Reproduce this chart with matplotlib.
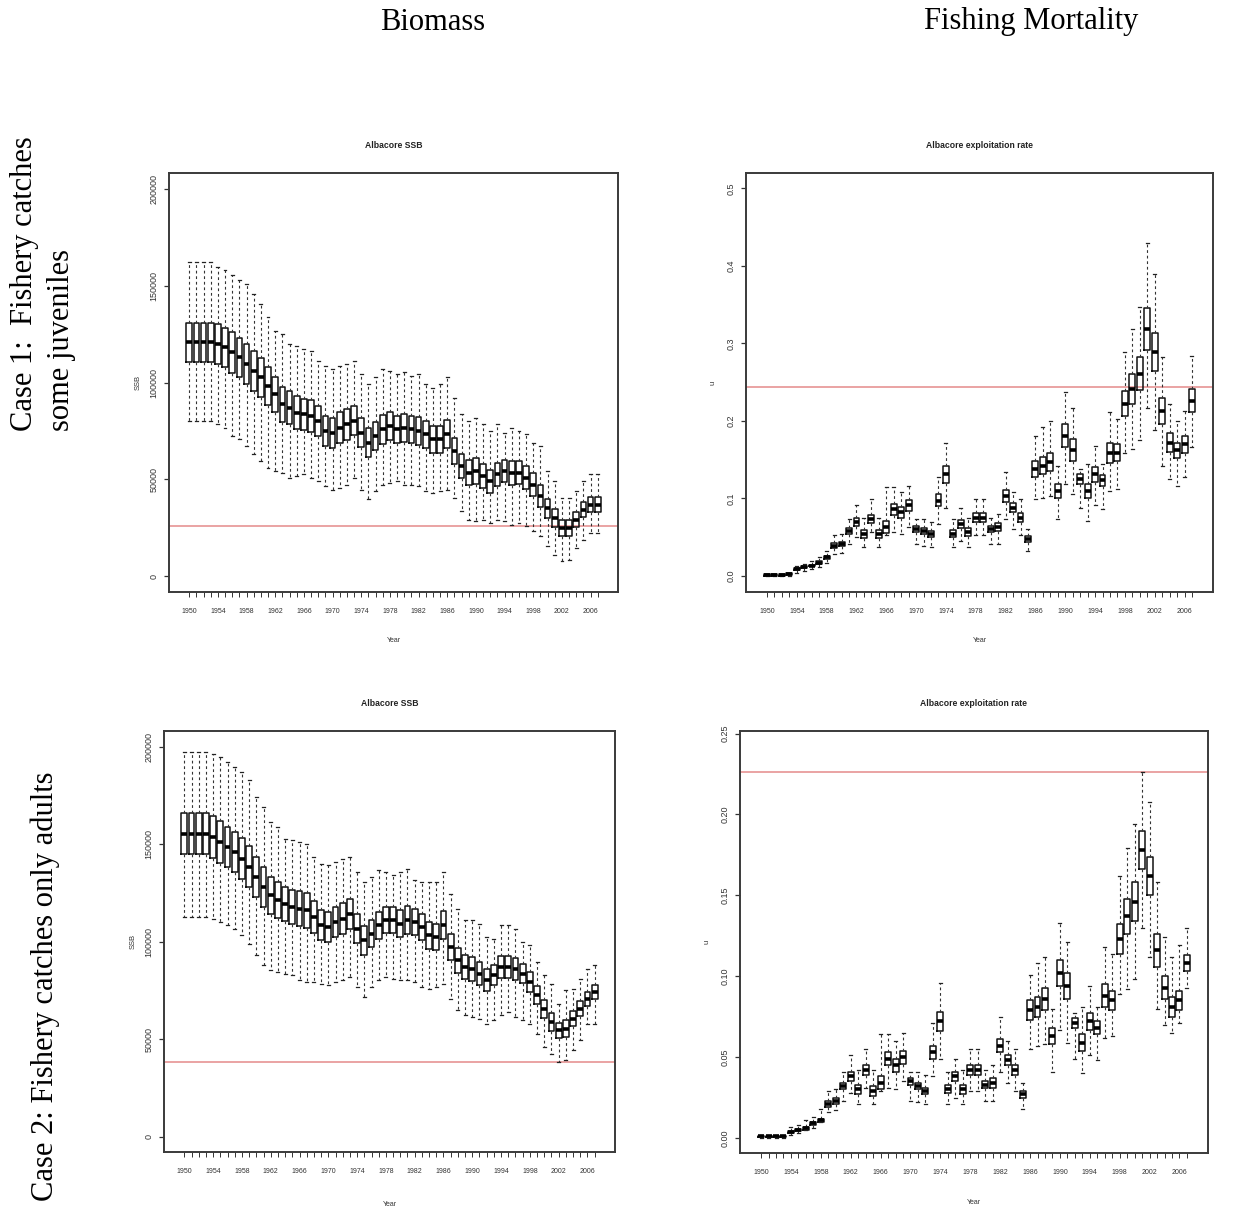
import matplotlib
matplotlib.use("Agg")
import matplotlib.pyplot as plt

# years 1950-2007, one box per year
years = list(range(1950, 2008))

# Case 1, SSB (thousand t): median, quartiles, whisker ends
tl_med = [120.7, 120.7, 120.7, 120.7, 119.8, 118.1, 115.5, 112.9, 109.5, 106.0,
          102.6, 98.3, 94.0, 88.8, 87.1, 84.5, 83.6, 82.8, 80.2, 75.0,
          74.1, 76.7, 78.4, 80.2, 74.1, 69.0, 72.4, 75.9, 77.6, 75.9,
          76.7, 75.9, 75.0, 73.3, 70.7, 70.7, 73.3, 64.7, 56.9, 53.4,
          54.3, 51.7, 49.1, 52.6, 54.3, 53.4, 53.4, 50.9, 47.4, 41.4,
          35.3, 30.2, 25.0, 25.0, 29.3, 34.5, 37.1, 37.1]
tl_q1 = [110.5, 110.5, 110.5, 110.5, 109.7, 108.0, 105.1, 102.7, 99.0, 95.6,
         92.5, 88.6, 85.0, 79.8, 78.5, 76.1, 75.5, 74.6, 72.4, 67.2,
         66.3, 68.8, 70.6, 72.7, 66.7, 61.6, 65.1, 68.5, 70.4, 69.0,
         69.5, 68.9, 67.8, 66.4, 63.9, 63.8, 66.1, 58.2, 50.6, 47.0,
         47.6, 45.6, 43.2, 46.5, 48.6, 47.1, 47.5, 45.0, 41.7, 35.6,
         30.4, 25.5, 20.9, 21.0, 25.6, 30.7, 33.3, 33.3]
tl_q3 = [130.9, 130.9, 130.9, 130.9, 129.9, 128.2, 125.9, 123.1, 120.0, 116.4,
         112.7, 108.0, 103.0, 97.8, 95.7, 92.9, 91.7, 91.0, 88.0, 82.8,
         81.9, 84.6, 86.2, 87.7, 81.5, 76.4, 79.7, 83.3, 84.8, 82.8,
         83.9, 82.9, 82.2, 80.2, 77.5, 77.6, 80.5, 71.2, 63.2, 59.8,
         61.0, 57.8, 55.0, 58.7, 60.0, 59.7, 59.3, 56.8, 53.1, 47.2,
         40.2, 34.9, 29.1, 29.0, 33.0, 38.3, 40.9, 40.9]
tl_lo = [80.2, 80.2, 80.2, 80.2, 78.4, 76.7, 72.4, 70.7, 67.2, 62.9,
         59.5, 56.0, 54.3, 53.4, 50.9, 51.7, 52.6, 50.9, 49.1, 46.6,
         44.8, 45.7, 47.4, 50.9, 44.8, 39.7, 44.0, 47.4, 48.3, 49.1,
         47.4, 47.4, 46.6, 44.0, 43.1, 44.0, 44.8, 40.5, 33.6, 29.3,
         28.4, 29.3, 27.6, 29.3, 28.4, 26.7, 27.6, 25.9, 23.3, 20.7,
         15.5, 11.2, 7.8, 8.6, 14.7, 19.0, 22.4, 22.4]
tl_hi = [162.1, 162.1, 162.1, 162.1, 159.5, 157.8, 155.2, 152.6, 150.9, 145.7,
         140.5, 133.6, 126.7, 125.0, 119.8, 119.0, 117.2, 116.4, 111.2, 108.6,
         106.9, 108.6, 109.5, 111.2, 104.3, 99.1, 102.6, 106.9, 106.0, 104.3,
         105.2, 103.4, 104.3, 99.1, 97.4, 99.1, 102.6, 92.2, 83.6, 80.2,
         81.9, 78.4, 75.0, 78.4, 74.1, 76.7, 75.0, 73.3, 69.0, 67.2,
         54.3, 49.1, 40.5, 40.5, 44.0, 49.1, 52.6, 52.6]

# Case 2, SSB (thousand t)
bl_med = [155.6, 155.6, 155.6, 155.6, 153.8, 151.3, 148.7, 146.2, 142.7, 138.5,
          133.3, 128.2, 123.9, 121.4, 119.7, 117.9, 117.1, 116.2, 112.8, 108.5,
          107.7, 110.3, 112.0, 114.5, 106.8, 100.9, 104.3, 108.5, 111.1, 111.1,
          109.4, 111.1, 110.3, 107.7, 103.4, 102.6, 108.5, 97.4, 90.6, 87.2,
          86.3, 83.8, 80.3, 82.9, 87.2, 87.2, 86.3, 83.8, 79.5, 72.6,
          65.8, 59.0, 54.7, 55.6, 60.7, 65.8, 70.9, 74.4]
bl_q1 = [145.0, 145.0, 145.0, 145.0, 143.2, 140.7, 138.2, 135.8, 132.2, 128.0,
         123.1, 118.0, 114.4, 112.1, 111.0, 109.2, 108.2, 107.3, 104.8, 100.8,
         100.0, 102.6, 104.2, 106.8, 99.4, 93.5, 97.2, 101.4, 104.4, 104.5,
         102.4, 103.9, 103.8, 101.0, 96.6, 95.9, 101.3, 90.7, 84.1, 81.1,
         80.1, 77.7, 74.7, 77.7, 81.4, 81.6, 80.6, 78.8, 74.5, 68.0,
         61.2, 54.5, 51.0, 51.1, 56.7, 61.8, 67.4, 70.7]
bl_q3 = [166.2, 166.2, 166.2, 166.2, 164.4, 161.9, 159.2, 156.6, 153.2, 149.0,
         143.5, 138.4, 133.4, 130.7, 128.4, 126.6, 126.0, 125.1, 120.8, 116.2,
         115.4, 118.0, 119.8, 122.2, 114.2, 108.3, 111.4, 115.6, 117.8, 117.7,
         116.4, 118.3, 116.8, 114.4, 110.2, 109.3, 115.7, 104.1, 97.1, 93.3,
         92.5, 89.9, 85.9, 88.1, 93.0, 92.8, 92.0, 88.8, 84.5, 77.2,
         70.4, 63.5, 58.4, 60.1, 64.7, 69.8, 74.4, 78.1]
bl_lo = [112.8, 112.8, 112.8, 112.8, 112.0, 110.3, 108.5, 106.8, 103.4, 99.1,
         93.2, 88.0, 85.5, 84.6, 83.8, 82.9, 80.3, 79.5, 79.5, 78.6,
         77.8, 79.5, 80.3, 82.1, 76.9, 71.8, 76.9, 80.3, 82.1, 81.2,
         80.3, 80.3, 79.5, 76.9, 76.1, 76.9, 78.6, 70.9, 65.0, 62.4,
         61.5, 60.7, 58.1, 59.8, 62.4, 64.1, 61.5, 59.8, 58.1, 53.0,
         46.2, 42.7, 38.5, 39.3, 44.4, 49.6, 58.1, 58.1]
bl_hi = [197.4, 197.4, 197.4, 197.4, 196.6, 194.9, 192.3, 189.7, 187.2, 182.9,
         174.4, 169.2, 161.5, 159.0, 153.0, 152.1, 151.3, 150.4, 143.6, 140.2,
         139.3, 141.0, 142.7, 143.6, 135.9, 130.8, 133.3, 136.8, 135.9, 134.2,
         135.9, 137.6, 131.6, 130.8, 130.8, 130.8, 135.9, 124.8, 117.1, 111.1,
         111.1, 109.4, 102.6, 101.7, 108.5, 108.5, 106.8, 100.0, 98.3, 89.7,
         82.9, 78.6, 68.4, 75.2, 76.1, 81.2, 86.3, 88.0]

# Case 1, exploitation rate
tr_med = [0.001, 0.001, 0.001, 0.002, 0.009, 0.011, 0.013, 0.017, 0.024, 0.039,
          0.041, 0.058, 0.069, 0.054, 0.073, 0.054, 0.063, 0.086, 0.082, 0.091,
          0.060, 0.058, 0.054, 0.097, 0.131, 0.054, 0.067, 0.056, 0.075, 0.075,
          0.060, 0.063, 0.103, 0.088, 0.075, 0.047, 0.138, 0.142, 0.147, 0.110,
          0.181, 0.162, 0.125, 0.110, 0.131, 0.123, 0.159, 0.159, 0.222, 0.241,
          0.261, 0.319, 0.289, 0.213, 0.172, 0.162, 0.170, 0.226]
tr_q1 = [0.000, 0.000, 0.000, 0.001, 0.008, 0.010, 0.012, 0.015, 0.022, 0.036,
         0.038, 0.054, 0.064, 0.049, 0.068, 0.049, 0.055, 0.079, 0.075, 0.084,
         0.056, 0.054, 0.050, 0.090, 0.120, 0.050, 0.062, 0.051, 0.069, 0.069,
         0.056, 0.058, 0.095, 0.082, 0.069, 0.043, 0.128, 0.131, 0.135, 0.101,
         0.166, 0.148, 0.119, 0.101, 0.121, 0.116, 0.146, 0.148, 0.206, 0.222,
         0.240, 0.292, 0.264, 0.196, 0.160, 0.152, 0.159, 0.211]
tr_q3 = [0.002, 0.002, 0.002, 0.003, 0.010, 0.012, 0.014, 0.019, 0.026, 0.042,
         0.044, 0.062, 0.074, 0.059, 0.078, 0.059, 0.071, 0.093, 0.089, 0.098,
         0.064, 0.062, 0.058, 0.105, 0.142, 0.059, 0.072, 0.061, 0.081, 0.081,
         0.064, 0.068, 0.111, 0.094, 0.081, 0.051, 0.148, 0.153, 0.159, 0.119,
         0.196, 0.176, 0.131, 0.119, 0.141, 0.130, 0.172, 0.170, 0.238, 0.260,
         0.282, 0.346, 0.314, 0.230, 0.184, 0.172, 0.181, 0.241]
tr_lo = [0.000, 0.000, 0.000, 0.000, 0.004, 0.006, 0.009, 0.011, 0.017, 0.028,
         0.030, 0.041, 0.050, 0.037, 0.056, 0.037, 0.052, 0.056, 0.054, 0.063,
         0.041, 0.039, 0.037, 0.067, 0.088, 0.037, 0.045, 0.037, 0.052, 0.052,
         0.041, 0.041, 0.073, 0.060, 0.052, 0.032, 0.099, 0.101, 0.103, 0.073,
         0.119, 0.106, 0.088, 0.071, 0.091, 0.086, 0.110, 0.112, 0.159, 0.164,
         0.175, 0.216, 0.188, 0.142, 0.125, 0.116, 0.127, 0.166]
tr_hi = [0.002, 0.002, 0.002, 0.004, 0.013, 0.015, 0.019, 0.024, 0.032, 0.052,
         0.054, 0.073, 0.091, 0.075, 0.099, 0.075, 0.114, 0.114, 0.108, 0.116,
         0.073, 0.073, 0.069, 0.127, 0.172, 0.073, 0.088, 0.075, 0.099, 0.099,
         0.075, 0.080, 0.134, 0.108, 0.099, 0.060, 0.181, 0.192, 0.200, 0.142,
         0.237, 0.216, 0.138, 0.144, 0.168, 0.144, 0.211, 0.203, 0.289, 0.319,
         0.347, 0.429, 0.390, 0.282, 0.222, 0.200, 0.213, 0.284]

# Case 2, exploitation rate
br_med = [0.001, 0.001, 0.001, 0.001, 0.0035, 0.005, 0.006, 0.009, 0.011, 0.021,
          0.023, 0.032, 0.038, 0.030, 0.042, 0.029, 0.034, 0.049, 0.045, 0.050,
          0.035, 0.032, 0.029, 0.053, 0.072, 0.030, 0.038, 0.030, 0.042, 0.042,
          0.033, 0.034, 0.057, 0.048, 0.042, 0.027, 0.079, 0.081, 0.086, 0.063,
          0.102, 0.094, 0.071, 0.059, 0.072, 0.068, 0.088, 0.085, 0.123, 0.137,
          0.146, 0.178, 0.162, 0.116, 0.093, 0.081, 0.085, 0.108]
br_q1 = [0.0005, 0.0005, 0.0005, 0.0005, 0.003, 0.0044, 0.005, 0.008, 0.010, 0.019,
         0.021, 0.030, 0.035, 0.027, 0.039, 0.026, 0.030, 0.045, 0.041, 0.046,
         0.033, 0.030, 0.027, 0.049, 0.066, 0.028, 0.035, 0.027, 0.039, 0.039,
         0.031, 0.031, 0.053, 0.045, 0.039, 0.025, 0.073, 0.075, 0.079, 0.058,
         0.094, 0.086, 0.068, 0.054, 0.067, 0.064, 0.081, 0.079, 0.114, 0.126,
         0.134, 0.166, 0.150, 0.106, 0.086, 0.075, 0.079, 0.103]
br_q3 = [0.0015, 0.0015, 0.0015, 0.0015, 0.004, 0.0056, 0.007, 0.010, 0.012, 0.023,
         0.025, 0.034, 0.041, 0.033, 0.045, 0.032, 0.038, 0.053, 0.049, 0.054,
         0.037, 0.034, 0.031, 0.057, 0.078, 0.033, 0.041, 0.033, 0.045, 0.045,
         0.035, 0.037, 0.061, 0.051, 0.045, 0.029, 0.085, 0.087, 0.093, 0.068,
         0.110, 0.102, 0.074, 0.064, 0.077, 0.072, 0.095, 0.091, 0.132, 0.148,
         0.158, 0.190, 0.174, 0.126, 0.100, 0.087, 0.091, 0.113]
br_lo = [0.000, 0.000, 0.000, 0.000, 0.002, 0.003, 0.005, 0.006, 0.010, 0.016,
         0.017, 0.023, 0.028, 0.021, 0.031, 0.021, 0.029, 0.031, 0.030, 0.035,
         0.023, 0.022, 0.021, 0.038, 0.049, 0.021, 0.025, 0.021, 0.029, 0.029,
         0.023, 0.023, 0.041, 0.034, 0.029, 0.018, 0.055, 0.057, 0.058, 0.041,
         0.067, 0.059, 0.049, 0.040, 0.051, 0.048, 0.062, 0.063, 0.089, 0.092,
         0.098, 0.130, 0.112, 0.080, 0.070, 0.065, 0.071, 0.093]
br_hi = [0.002, 0.002, 0.002, 0.002, 0.007, 0.008, 0.011, 0.013, 0.018, 0.029,
         0.030, 0.041, 0.051, 0.042, 0.055, 0.042, 0.064, 0.064, 0.060, 0.065,
         0.041, 0.041, 0.039, 0.071, 0.096, 0.041, 0.049, 0.042, 0.055, 0.055,
         0.042, 0.045, 0.075, 0.060, 0.055, 0.034, 0.101, 0.108, 0.112, 0.080,
         0.133, 0.121, 0.077, 0.081, 0.094, 0.081, 0.118, 0.114, 0.162, 0.179,
         0.194, 0.226, 0.208, 0.158, 0.124, 0.112, 0.119, 0.130]

# reference levels (red lines)
tl_ref = 25.9
bl_ref = 38.5
tr_ref = 0.244
br_ref = 0.226

ssb_ticks = [0, 50000, 100000, 150000, 200000]
tr_ticks = [0.0, 0.1, 0.2, 0.3, 0.4, 0.5]
br_ticks = [0.00, 0.05, 0.10, 0.15, 0.20, 0.25]

W, H = 1254, 1212
fig = plt.figure(figsize=(W / 100, H / 100), dpi=100)
fig.patch.set_facecolor("white")

inner = "Liberation Sans"
outer = "Liberation Serif"


def panel(rect, med, q1, q3, lo, hi, ref, scale, title, ylab, yticks, ytl, ylim, ylab_off, year_off):
    ax = fig.add_axes([rect[0] / W, 1 - rect[3] / H, (rect[2] - rect[0]) / W, (rect[3] - rect[1]) / H])
    stats = []
    for m, a, b, l, h in zip(med, q1, q3, lo, hi):
        stats.append(dict(med=m * scale, q1=a * scale, q3=b * scale,
                          whislo=l * scale, whishi=h * scale, fliers=[]))
    pos = list(range(1, len(years) + 1))
    ax.bxp(stats, positions=pos, widths=0.8, capwidths=0.4, showfliers=False,
           manage_ticks=False,
           boxprops=dict(color="#111111", linewidth=1.1),
           medianprops=dict(color="black", linewidth=2.6, solid_capstyle="butt"),
           whiskerprops=dict(color="#333333", linewidth=0.8, linestyle=(0, (2.5, 2.5))),
           capprops=dict(color="#222222", linewidth=0.9))
    ax.axhline(ref * scale, color="#e48a8a", linewidth=1.1, zorder=0.5)
    ax.set_xlim(-1.82, 60.82)
    ax.set_ylim(*ylim)

    ax.set_xticks(pos)
    ax.set_xticklabels([str(y) if (y - 1950) % 4 == 0 else "" for y in years],
                       fontsize=5, family=inner, color="#333333")
    ax.set_yticks(yticks)
    ax.set_yticklabels(ytl, rotation=90, va="center", fontsize=6.5, family=inner, color="#333333")
    ax.tick_params(axis="x", length=3.5, width=0.7, pad=8, colors="#333333")
    ax.tick_params(axis="y", length=3.5, width=0.9, pad=4, colors="#333333")
    for s in ax.spines.values():
        s.set_linewidth(1.4)
        s.set_color("#3a3a3a")

    hpx = rect[3] - rect[1]
    wpx = rect[2] - rect[0]
    ax.text(0.5, 1 + 27.5 / hpx, title, transform=ax.transAxes, ha="center", va="center",
            fontsize=6.2, fontweight="bold", family=inner, color="#222222")
    ax.text(0.5, -year_off / hpx, "Year", transform=ax.transAxes, ha="center", va="center",
            fontsize=5, family=inner, color="#333333")
    ax.text(-ylab_off / wpx, 0.5, ylab, transform=ax.transAxes, ha="center", va="center",
            rotation=90, fontsize=5.5, family=inner, color="#333333")
    return ax


panel((169, 173, 618, 592), tl_med, tl_q1, tl_q3, tl_lo, tl_hi, tl_ref, 1000.0,
      "Albacore SSB", "SSB", ssb_ticks, [str(t) for t in ssb_ticks], (-8000, 208000), 31, 48)
panel((746, 173, 1213, 592), tr_med, tr_q1, tr_q3, tr_lo, tr_hi, tr_ref, 1.0,
      "Albacore exploitation rate", "u", tr_ticks, ["%.1f" % t for t in tr_ticks], (-0.021, 0.52), 33, 48)
panel((164, 731, 615, 1152), bl_med, bl_q1, bl_q3, bl_lo, bl_hi, bl_ref, 1000.0,
      "Albacore SSB", "SSB", ssb_ticks, [str(t) for t in ssb_ticks], (-7700, 208200), 31, 52)
panel((740, 731, 1208, 1153), br_med, br_q1, br_q3, br_lo, br_hi, br_ref, 1.0,
      "Albacore exploitation rate", "u", br_ticks, ["%.2f" % t for t in br_ticks], (-0.0093, 0.2516), 33, 50)

# column and row headings
fig.text(433 / W, 1 - 22 / H, "Biomass", ha="center", va="center", fontsize=22, family=outer)
fig.text(1031 / W, 1 - 22 / H, "Fishing Mortality", ha="center", va="center", fontsize=22, family=outer)
fig.text(25 / W, 1 - 431 / H, "Case 1:  Fishery catches", rotation=90, ha="center", va="bottom",
         fontsize=22, family=outer)
fig.text(62 / W, 1 - 431 / H, "some juveniles", rotation=90, ha="center", va="bottom",
         fontsize=22, family=outer)
fig.text(45 / W, 1 - 1201 / H, "Case 2: Fishery catches only adults", rotation=90, ha="center",
         va="bottom", fontsize=22, family=outer)

fig.savefig("out.png", dpi=100, facecolor="white")
